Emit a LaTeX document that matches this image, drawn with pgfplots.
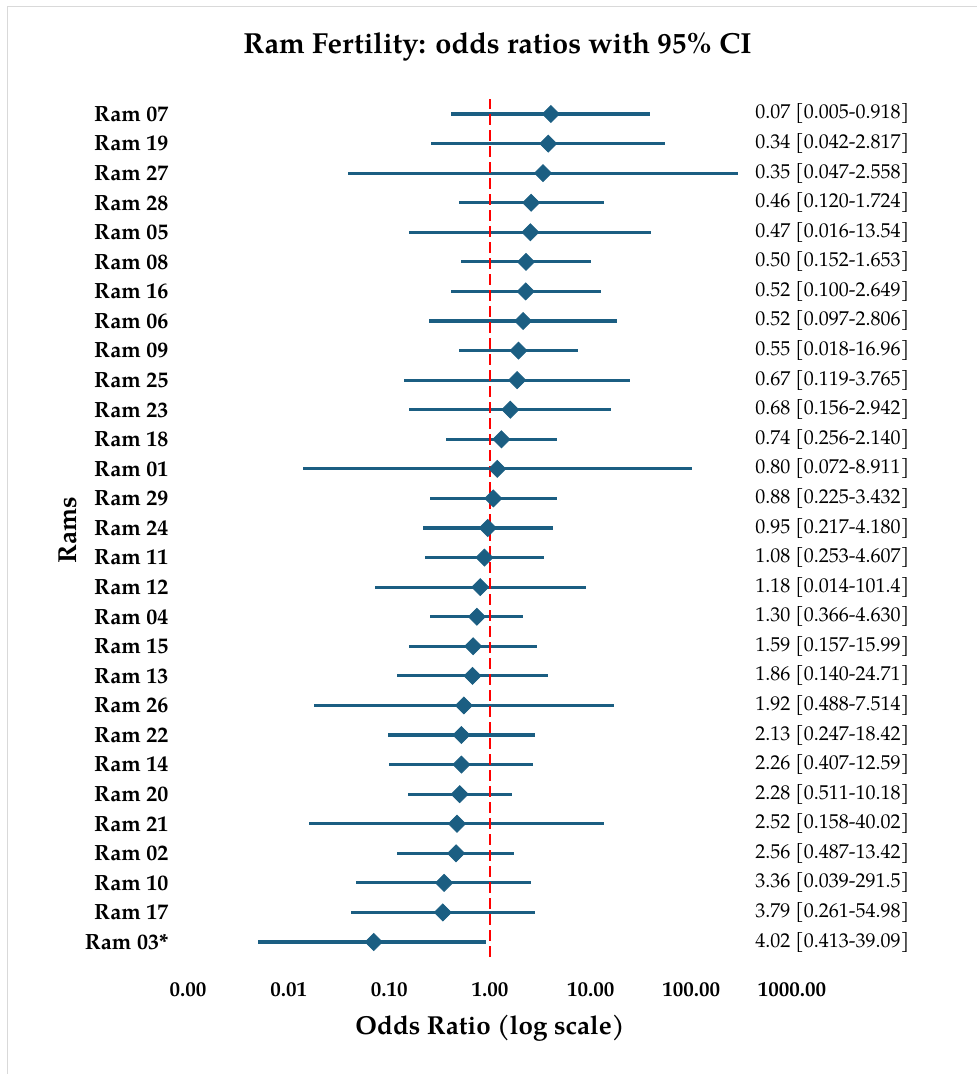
\documentclass[border=0pt]{standalone}
\usepackage{fontspec}
\setmainfont{texgyrepagella}[Extension=.otf, UprightFont=*-regular, BoldFont=*-bold, ItalicFont=*-italic, BoldItalicFont=*-bolditalic]
\usepackage{pgfplots}
\usepackage{pgfplotstable}
\pgfplotsset{compat=1.18}
\definecolor{ciblue}{HTML}{1B5E82}
\definecolor{bordergray}{HTML}{D9D9D9}

\pgfplotstableread{
y or lo hi
29 4.02 0.413 39.09
28 3.79 0.261 54.98
27 3.36 0.039 291.5
26 2.56 0.487 13.42
25 2.52 0.158 40.02
24 2.28 0.511 10.18
23 2.26 0.407 12.59
22 2.13 0.247 18.42
21 1.92 0.488 7.514
20 1.86 0.140 24.71
19 1.59 0.157 15.99
18 1.30 0.366 4.630
17 1.18 0.014 101.4
16 1.08 0.253 4.607
15 0.95 0.217 4.180
14 0.88 0.225 3.432
13 0.80 0.072 8.911
12 0.74 0.256 2.140
11 0.68 0.156 2.942
10 0.67 0.119 3.765
9 0.55 0.018 16.96
8 0.52 0.097 2.806
7 0.52 0.100 2.649
6 0.50 0.152 1.653
5 0.47 0.016 13.54
4 0.46 0.120 1.724
3 0.35 0.047 2.558
2 0.34 0.042 2.817
1 0.07 0.005 0.918
}\ramdata

\begin{document}
\begin{tikzpicture}
\useasboundingbox (0,0) rectangle (488.5pt,-537pt);
\draw[bordergray, line width=0.75pt] (3.75pt,-537pt) -- (3.75pt,-3.25pt) -- (488.5pt,-3.25pt);
\node[font=\bfseries\fontsize{14.5}{17}\selectfont] at (248.75pt,-23.5pt) {Ram Fertility: odds ratios with 95\% CI};
\node[font=\bfseries\fontsize{13}{16}\selectfont] at (245pt,-514pt) {Odds Ratio (log scale)};
\node[font=\bfseries\fontsize{13}{16}\selectfont, rotate=90] at (34pt,-265pt) {Rams};
\begin{axis}[
  at={(94pt,-478.4pt)}, anchor=south west,
  scale only axis, width=302pt, height=428.8pt,
  xmode=log, xmin=0.001, xmax=1000, ymin=0.5, ymax=29.5,
  axis line style={draw=none}, tick style={draw=none},
  xtick={0.001,0.01,0.1,1,10,100,1000},
  xticklabels={0.00,0.01,0.10,1.00,10.00,100.00,1000.00},
  xticklabel style={font=\bfseries\fontsize{10.5}{12}\selectfont, anchor=center, yshift=-16.6pt},
  ytick={1,...,29},
  yticklabels={Ram 03*,Ram 17,Ram 10,Ram 02,Ram 21,Ram 20,Ram 14,Ram 22,Ram 26,Ram 13,Ram 15,Ram 04,Ram 12,Ram 11,Ram 24,Ram 29,Ram 01,Ram 18,Ram 23,Ram 25,Ram 09,Ram 06,Ram 16,Ram 08,Ram 05,Ram 28,Ram 27,Ram 19,Ram 07},
  yticklabel style={font=\bfseries\fontsize{11}{13}\selectfont, anchor=east, xshift=-6.3pt},
  clip=false,
]
\addplot[ciblue, only marks, mark=square*, mark size=3pt,
  mark options={rotate=45, fill=ciblue, draw=ciblue},
  error bars/.cd, x dir=both, x explicit,
  error bar style={line width=1.6pt, ciblue}, error mark=none]
  table[x=or, y=y, x error plus expr=\thisrow{hi}-\thisrow{or}, x error minus expr=\thisrow{or}-\thisrow{lo}] {\ramdata};
\addplot[red, line width=1.2pt, dash pattern=on 5.5pt off 2.5pt] coordinates {(1,0.5) (1,29.5)};
\begin{scope}[every node/.style={anchor=west, inner sep=0pt, font=\fontsize{10}{12}\selectfont}]
\node at (axis cs:428,29) {0.07 [0.005-0.918]};
\node at (axis cs:428,28) {0.34 [0.042-2.817]};
\node at (axis cs:428,27) {0.35 [0.047-2.558]};
\node at (axis cs:428,26) {0.46 [0.120-1.724]};
\node at (axis cs:428,25) {0.47 [0.016-13.54]};
\node at (axis cs:428,24) {0.50 [0.152-1.653]};
\node at (axis cs:428,23) {0.52 [0.100-2.649]};
\node at (axis cs:428,22) {0.52 [0.097-2.806]};
\node at (axis cs:428,21) {0.55 [0.018-16.96]};
\node at (axis cs:428,20) {0.67 [0.119-3.765]};
\node at (axis cs:428,19) {0.68 [0.156-2.942]};
\node at (axis cs:428,18) {0.74 [0.256-2.140]};
\node at (axis cs:428,17) {0.80 [0.072-8.911]};
\node at (axis cs:428,16) {0.88 [0.225-3.432]};
\node at (axis cs:428,15) {0.95 [0.217-4.180]};
\node at (axis cs:428,14) {1.08 [0.253-4.607]};
\node at (axis cs:428,13) {1.18 [0.014-101.4]};
\node at (axis cs:428,12) {1.30 [0.366-4.630]};
\node at (axis cs:428,11) {1.59 [0.157-15.99]};
\node at (axis cs:428,10) {1.86 [0.140-24.71]};
\node at (axis cs:428,9) {1.92 [0.488-7.514]};
\node at (axis cs:428,8) {2.13 [0.247-18.42]};
\node at (axis cs:428,7) {2.26 [0.407-12.59]};
\node at (axis cs:428,6) {2.28 [0.511-10.18]};
\node at (axis cs:428,5) {2.52 [0.158-40.02]};
\node at (axis cs:428,4) {2.56 [0.487-13.42]};
\node at (axis cs:428,3) {3.36 [0.039-291.5]};
\node at (axis cs:428,2) {3.79 [0.261-54.98]};
\node at (axis cs:428,1) {4.02 [0.413-39.09]};
\end{scope}
\end{axis}
\end{tikzpicture}
\end{document}
